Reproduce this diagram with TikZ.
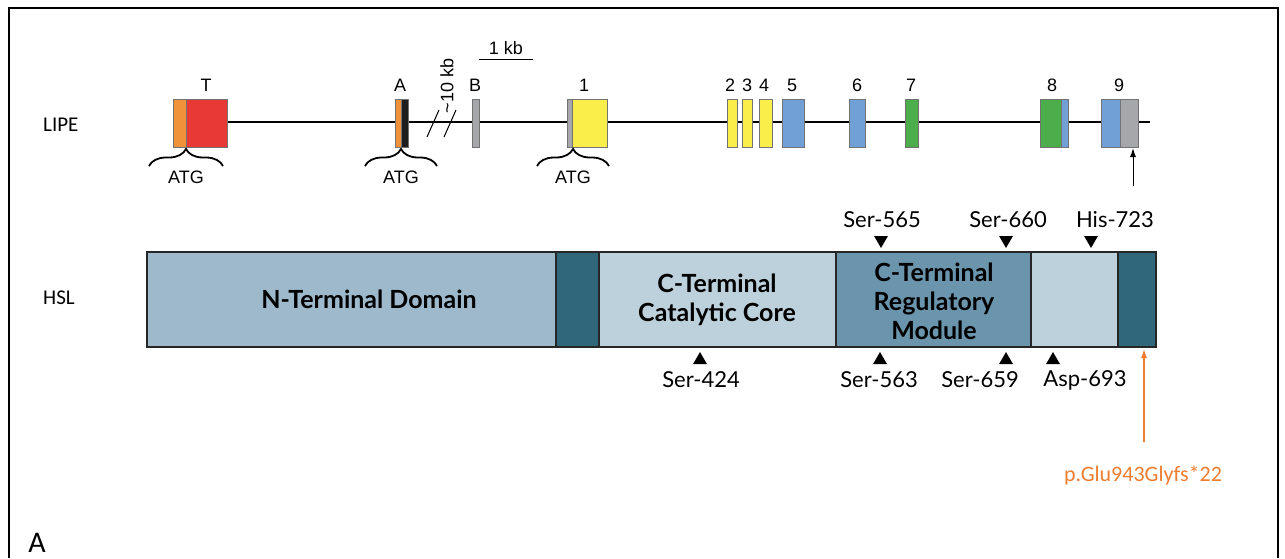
\documentclass[tikz,border=0pt]{standalone}
\usepackage{fontspec}
\setmainfont{Liberation Sans}
\newfontfamily\domfont{Lato}
\newfontfamily\calfont{Carlito}
\usetikzlibrary{arrows.meta,decorations.pathreplacing,shapes.geometric}

\definecolor{exOrange}{RGB}{240,146,58}
\definecolor{exRed}{RGB}{233,57,55}
\definecolor{exYellow}{RGB}{250,238,75}
\definecolor{exBlue}{RGB}{113,160,214}
\definecolor{exGreen}{RGB}{76,174,75}
\definecolor{exGray}{RGB}{166,167,171}
\definecolor{exBlack}{RGB}{30,30,30}
\definecolor{domN}{RGB}{158,185,203}
\definecolor{domDark}{RGB}{48,103,122}
\definecolor{domLight}{RGB}{189,209,220}
\definecolor{domReg}{RGB}{106,149,172}
\definecolor{mutOrange}{RGB}{237,125,49}

\tikzset{
	exon/.style={draw=black!55, line width=0.9pt},
	dom/.style={draw=black!85, line width=1.4pt},
	genelbl/.style={inner sep=0pt, font=\fontsize{18}{20}\selectfont},
	rowlbl/.style={inner sep=0pt, anchor=west, font=\calfont\fontsize{21}{24}\selectfont},
	domlbl/.style={inner sep=0pt, align=center, font=\domfont\bfseries\fontsize{25}{29}\selectfont},
	site/.style={inner sep=0pt, font=\domfont\fontsize{22}{24}\selectfont},
	triup/.style={regular polygon, regular polygon sides=3, fill=black, inner sep=0pt, minimum size=16pt},
	tridown/.style={triup, shape border rotate=180},
	atgbrace/.style={decorate, decoration={brace, amplitude=17pt}, line width=1.8pt},
}

\begin{document}
\begin{tikzpicture}[x=1pt, y=-1pt]

% parameters %{{{2

	\def\extop{99}
	\def\exbot{147}
	\def\bartop{252}
	\def\barbot{347}

	\useasboundingbox (0,0) rectangle (1285,558);

% frame %{{{2

	\draw[line width=2pt] (9,558) -- (9,8) -- (1278,8) -- (1278,558);

% gene %{{{2

	\node[rowlbl] (lipe) at (43,125) {LIPE};

	\draw[line width=1.6pt] (227,122) -- (1150,122);

	\foreach \xa/\xb/\col in {173/186/exOrange, 186/227/exRed,
		395/401/exOrange, 401/408/exBlack, 472/479/exGray,
		567/572/exGray, 572/607/exYellow, 727/737/exYellow,
		742/752/exYellow, 759/772/exYellow, 782/804/exBlue,
		849/865/exBlue, 905/918/exGreen, 1040/1061/exGreen,
		1061/1068/exBlue, 1101/1120/exBlue, 1120/1138/exGray} {
		\filldraw[exon, fill=\col] (\xa,\extop) rectangle (\xb,\exbot);
	}

	\foreach \n/\x in {T/206, A/400, B/475, 1/584, 2/730, 3/747,
		4/764, 5/792, 6/857, 7/911, 8/1052, 9/1119} {
		\node[genelbl] (lbl\n) at (\x,85) {\n};
	}

% break and scale %{{{2

	\draw[line width=1pt] (427,137) -- (439,110);
	\draw[line width=1pt] (444,137) -- (456,110);
	\node[genelbl, rotate=90] (gap) at (447,86) {\textasciitilde10 kb};

	\node[genelbl] (kb) at (506,48) {1 kb};
	\draw[line width=1pt] (479,59) -- (533,59);

% start codons %{{{2

	\foreach \id/\xa/\xb in {T/149/223, A/365/437, 1/537/609} {
		\draw[atgbrace] (\xa,166) -- (\xb,166);
		\node[genelbl] (atg\id) at ({(\xa+\xb)/2},177) {ATG};
	}

	\coordinate (arrfoot) at (1133,186);
	\coordinate (ex9) at (1133,148);
	\draw[-{Latex[length=9pt,width=6pt]}, line width=1pt] (arrfoot) -- (ex9);

% protein %{{{2

	\node[rowlbl] (hsl) at (43,298) {HSL};

	\foreach \xa/\xb/\col in {147/556/domN, 556/599/domDark,
		599/836/domLight, 836/1031/domReg, 1031/1118/domLight,
		1118/1156/domDark} {
		\filldraw[dom, fill=\col] (\xa,\bartop) rectangle (\xb,\barbot);
	}

	\node[domlbl] (nterm) at (369,299) {N-Terminal Domain};
	\node[domlbl] (core) at (717,300) {C-Terminal\\Catalytic Core};
	\node[domlbl] (reg) at (934,301) {C-Terminal\\Regulatory\\Module};

% sites %{{{2

	\foreach \id/\txt/\xt/\xl in {s565/Ser-565/881/882,
		s660/Ser-660/1006/1008, h723/His-723/1091/1115} {
		\node[tridown] (t\id) at (\xt,240) {};
		\node[site] (\id) at (\xl,220) {\txt};
	}

	\foreach \id/\txt/\xt/\xl in {s424/Ser-424/700/701,
		s563/Ser-563/880/879, s659/Ser-659/1006/980,
		d693/Asp-693/1053/1085} {
		\node[triup] (t\id) at (\xt,360) {};
		\node[site] (\id) at (\xl,380) {\txt};
	}

% mutation %{{{2

	\node[inner sep=0pt, anchor=north, text=mutOrange,
		font=\calfont\fontsize{22}{24}\selectfont] (mut) at (1143,466) {p.Glu943Glyfs*22};
	\coordinate (hslend) at (1144,349);
	\draw[mutOrange, line width=1.2pt, -{Latex[length=9pt,width=6pt]}, shorten <=24pt]
		(mut.north -| hslend) -- (hslend);

% panel %{{{2

	\node[inner sep=0pt, font=\calfont\fontsize{30}{32}\selectfont] (panel) at (37,543) {A};

\end{tikzpicture}
\end{document}
